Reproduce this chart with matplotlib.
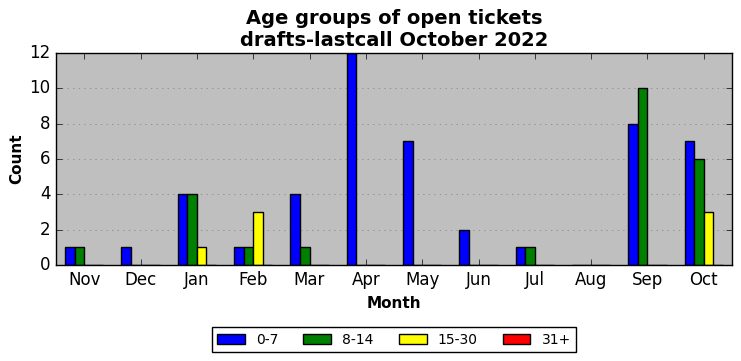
import matplotlib
matplotlib.use("Agg")
import matplotlib.pyplot as plt
import numpy as np

plt.style.use('classic')

months = ["Nov", "Dec", "Jan", "Feb", "Mar", "Apr", "May", "Jun", "Jul", "Aug", "Sep", "Oct"]
series_names = ["0-7", "8-14", "15-30", "31+"]
s_0_7 = [1, 1, 4, 1, 4, 12, 7, 2, 1, 0, 8, 7]
s_8_14 = [1, 0, 4, 1, 1, 0, 0, 0, 1, 0, 10, 6]
s_15_30 = [0, 0, 1, 3, 0, 0, 0, 0, 0, 0, 0, 3]
s_31 = [0, 0, 0, 0, 0, 0, 0, 0, 0, 0, 0, 0]
colors = ["blue", "green", "yellow", "red"]

fig = plt.figure(figsize=(7.41, 3.61), dpi=100)
fig.patch.set_facecolor('white')
ax = fig.add_axes([56/741, 1-265/361, (732-56)/741, (265-53)/361])
ax.set_facecolor('#bfbfbf')

x = np.arange(len(months))
w = 0.17
for i, (vals, name, c) in enumerate(zip([s_0_7, s_8_14, s_15_30, s_31], series_names, colors)):
    ax.bar(x + (i - 1.5) * w, vals, width=w, color=c, edgecolor='black', linewidth=1, label=name, zorder=2)

ax.set_xlim(-0.5, 11.5)
ax.set_ylim(0, 12)
ax.set_xticks(x)
ax.set_xticklabels(months)
ax.set_yticks(range(0, 13, 2))
ax.grid(True, axis='y', linestyle=':', color='#808080', zorder=0)
ax.set_axisbelow(True)
ax.set_xlabel("Month", fontweight='bold', fontsize=11)
ax.set_ylabel("Count", fontweight='bold', fontsize=11, labelpad=3.5)
ax.set_title("Age groups of open tickets\ndrafts-lastcall October 2022", fontweight='bold', fontsize=14)
ax.legend(loc='upper center', bbox_to_anchor=(0.5, -0.26), ncol=4, fontsize=10,
          fancybox=False, frameon=True, columnspacing=1.8)

fig.savefig("out.png", dpi=100)
